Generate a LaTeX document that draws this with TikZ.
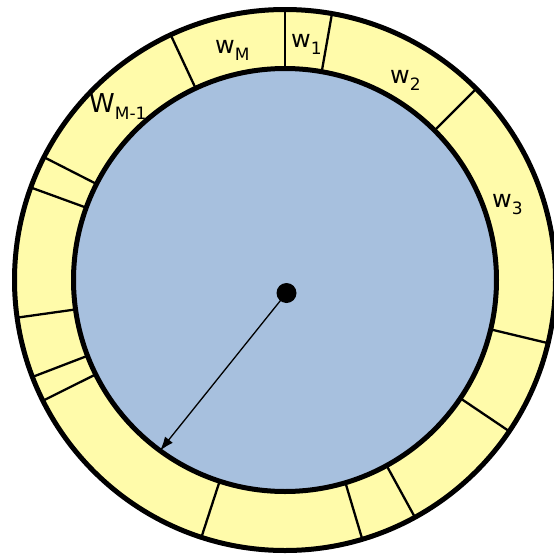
\documentclass[tikz,border=0pt]{standalone}
\usepackage{fontspec}
\setmainfont{DejaVu Sans}
\usetikzlibrary{calc,arrows.meta}
\definecolor{ringyellow}{RGB}{255,251,170}
\definecolor{diskblue}{RGB}{167,192,222}
\newcommand{\wlab}[2]{{\fontsize{24}{24}\selectfont #1}\raisebox{-7pt}{\fontsize{17}{17}\selectfont #2}}
\tikzset{
  divider/.style={line width=2.3pt},
  rim/.style={line width=5pt},
  lab/.style={anchor=base west, inner sep=0pt, text=black},
}
\begin{document}
\begin{tikzpicture}[x=1pt,y=1pt]
\useasboundingbox (0,0) rectangle (554,-555);
\coordinate (C) at (285,-280);
% ring and disk fills
\fill[ringyellow] (C) circle (270.5);
\fill[diskblue] (C) circle (211.5);
% dividers
\foreach \a in {45,80,90,115,153,160,188,201,206.5,252,286.6,298.7,326,346.5}
  \draw[divider] ($(C)+(\a:211.5)$) -- ($(C)+(\a:270.5)$);
% borders
\draw[rim] (C) circle (270.5);
\draw[rim] (C) circle (211.5);
% labels
\node[lab] (wM) at (215,-53) {\wlab{w}{M}};
\node[lab] (w1) at (291,-47) {\wlab{w}{1}};
\node[lab] (w2) at (390,-83) {\wlab{w}{2}};
\node[lab] (w3) at (492,-207) {\wlab{w}{3}};
\node[lab] (wM1) at (89,-112) {\wlab{{\fontsize{26}{26}\selectfont W}}{M-1}};
% centre and radius arrow
\node[circle, fill=black, inner sep=0pt, minimum size=20pt] (dot) at (286.5,-293) {};
\coordinate (tip) at ($(C)+(233.8:211.5)$);
\draw[line width=1.3pt, -{Latex[length=14,width=10]}] (dot.center) -- (tip);
\end{tikzpicture}
\end{document}
